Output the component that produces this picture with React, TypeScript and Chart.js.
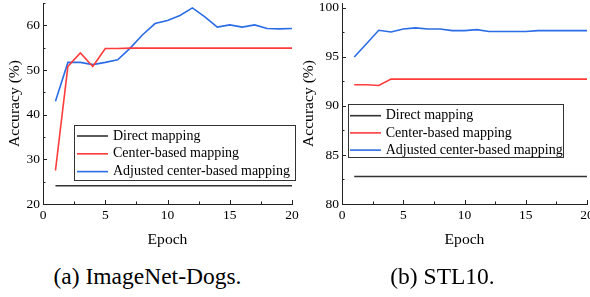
import React, { useEffect, useRef } from 'react';
import { Chart, registerables } from 'chart.js';

Chart.register(...registerables);

const FONT = "'Liberation Serif', 'Times New Roman', serif";

const epochs = [1, 2, 3, 4, 5, 6, 7, 8, 9, 10, 11, 12, 13, 14, 15, 16, 17, 18, 19, 20];
const seriesNames = ['Direct mapping', 'Center-based mapping', 'Adjusted center-based mapping'];
const seriesColors = ['#333333', '#ff3b3b', '#2b6de6'];
const xTickLabels = [0, 5, 10, 15, 20];

// (a) ImageNet-Dogs
const dogsDirect = [24.1, 24.1, 24.1, 24.1, 24.1, 24.1, 24.1, 24.1, 24.1, 24.1, 24.1, 24.1, 24.1, 24.1, 24.1, 24.1, 24.1, 24.1, 24.1, 24.1];
const dogsCenter = [27.5, 50.8, 53.8, 50.8, 54.8, 54.8, 54.9, 54.9, 54.9, 54.9, 54.9, 54.9, 54.9, 54.9, 54.9, 54.9, 54.9, 54.9, 54.9, 54.9];
const dogsAdjusted = [43.0, 51.7, 51.7, 51.2, 51.7, 52.3, 54.9, 57.9, 60.4, 61.1, 62.2, 63.9, 61.9, 59.6, 60.1, 59.6, 60.1, 59.3, 59.2, 59.3];
const dogsYTickLabels = [20, 30, 40, 50, 60];

// (b) STL10
const stlDirect = [82.8, 82.8, 82.8, 82.8, 82.8, 82.8, 82.8, 82.8, 82.8, 82.8, 82.8, 82.8, 82.8, 82.8, 82.8, 82.8, 82.8, 82.8, 82.8, 82.8];
const stlCenter = [92.16, 92.16, 92.08, 92.74, 92.74, 92.74, 92.74, 92.74, 92.74, 92.74, 92.74, 92.74, 92.74, 92.74, 92.74, 92.74, 92.74, 92.74, 92.74, 92.74];
const stlAdjusted = [94.99, 96.35, 97.72, 97.55, 97.85, 97.96, 97.85, 97.85, 97.68, 97.68, 97.78, 97.6, 97.6, 97.6, 97.6, 97.68, 97.68, 97.68, 97.68, 97.68];
const stlYTickLabels = [80, 85, 90, 95, 100];

const insideTicks = {
  id: 'insideTicks',
  afterDraw(chart: any, _args: any, o: any) {
    const { ctx, chartArea } = chart;
    const xs = chart.scales.x;
    const ys = chart.scales.y;
    ctx.save();
    ctx.strokeStyle = '#222';
    ctx.lineWidth = 1;
    ctx.beginPath();
    xs.ticks.forEach((t: any) => {
      const px = Math.round(xs.getPixelForValue(t.value)) + 0.5;
      const len = o.xMajor.includes(t.value) ? 4 : 2.5;
      ctx.moveTo(px, chartArea.bottom);
      ctx.lineTo(px, chartArea.bottom - len);
    });
    ys.ticks.forEach((t: any) => {
      const py = Math.round(ys.getPixelForValue(t.value)) + 0.5;
      const len = o.yMajor.includes(t.value) ? 4 : 2.5;
      ctx.moveTo(chartArea.left, py);
      ctx.lineTo(chartArea.left + len, py);
    });
    ctx.stroke();
    ctx.restore();
  },
};

const boxLegend = {
  id: 'boxLegend',
  afterDraw(chart: any, _args: any, o: any) {
    const ctx = chart.ctx;
    ctx.save();
    ctx.fillStyle = '#ffffff';
    ctx.fillRect(o.left, o.top, o.right - o.left, o.bottom - o.top);
    ctx.strokeStyle = '#333333';
    ctx.lineWidth = 1;
    ctx.strokeRect(o.left + 0.5, o.top + 0.5, o.right - o.left, o.bottom - o.top);
    chart.data.datasets.forEach((ds: any, i: number) => {
      const yy = o.top + o.firstRow + i * o.rowGap;
      ctx.strokeStyle = ds.borderColor;
      ctx.lineWidth = ds.borderWidth;
      ctx.beginPath();
      ctx.moveTo(o.sampleStart, yy);
      ctx.lineTo(o.sampleEnd, yy);
      ctx.stroke();
      ctx.fillStyle = '#000';
      ctx.font = `${o.fontSize}px ${FONT}`;
      ctx.textBaseline = 'middle';
      ctx.textAlign = 'left';
      ctx.fillText(ds.label, o.textX, yy);
    });
    ctx.restore();
  },
};

function buildConfig(series: number[][], yMin: number, yMax: number, yStep: number, yLabels: number[], yAxisWidth: number, yTitlePad: number, legend: any): any {
  return {
    type: 'line',
    data: {
      datasets: series.map((vals, i) => ({
        label: seriesNames[i],
        data: epochs.map((e, k) => ({ x: e, y: vals[k] })),
        borderColor: seriesColors[i],
        backgroundColor: seriesColors[i],
        borderWidth: 1.6,
        pointRadius: 0,
        tension: 0,
        fill: false,
      })),
    },
    options: {
      responsive: false,
      animation: false,
      devicePixelRatio: 1,
      layout: { padding: { top: 3, right: 10, bottom: 0, left: 0 } },
      plugins: {
        legend: { display: false },
        tooltip: { enabled: false },
        insideTicks: { xMajor: xTickLabels, yMajor: yLabels },
        boxLegend: legend,
      },
      scales: {
        x: {
          type: 'linear',
          min: 0,
          max: 20,
          grid: { display: false, drawTicks: false },
          border: { display: true, color: '#222', width: 1 },
          ticks: {
            stepSize: 2.5,
            autoSkip: false,
            maxRotation: 0,
            padding: 3,
            color: '#000',
            font: { family: FONT, size: 13.5 },
            callback: (v: number) => (xTickLabels.includes(v) ? String(v) : ''),
          },
          title: {
            display: true,
            text: 'Epoch',
            color: '#000',
            font: { family: FONT, size: 15.6 },
            padding: { top: 0, bottom: 6 },
          },
          afterFit: (s: any) => {
            s.height = 51;
            s.paddingLeft = 0;
            s.paddingRight = 0;
          },
        },
        y: {
          type: 'linear',
          min: yMin,
          max: yMax,
          grid: { display: false, drawTicks: false },
          border: { display: true, color: '#222', width: 1 },
          ticks: {
            stepSize: yStep,
            includeBounds: false,
            autoSkip: false,
            padding: 3,
            color: '#000',
            font: { family: FONT, size: 13.5 },
            callback: (v: number) => (yLabels.includes(v) ? String(v) : ''),
          },
          title: {
            display: true,
            text: 'Accuracy (%)',
            color: '#000',
            font: { family: FONT, size: 15.6 },
            padding: { top: yTitlePad, bottom: 0 },
          },
          afterFit: (s: any) => {
            s.width = yAxisWidth;
            s.paddingTop = 0;
            s.paddingBottom = 0;
          },
        },
      },
    },
    plugins: [insideTicks, boxLegend],
  };
}

export default function App() {
  const leftRef = useRef<HTMLCanvasElement | null>(null);
  const rightRef = useRef<HTMLCanvasElement | null>(null);

  useEffect(() => {
    const left = new Chart(
      leftRef.current as HTMLCanvasElement,
      buildConfig([dogsDirect, dogsCenter, dogsAdjusted], 20, 65, 5, dogsYTickLabels, 43, 6, {
        left: 74, right: 295, top: 125, bottom: 180,
        firstRow: 11, rowGap: 17.8, sampleStart: 77, sampleEnd: 108, textX: 113, fontSize: 14,
      })
    );
    const right = new Chart(
      rightRef.current as HTMLCanvasElement,
      buildConfig([stlDirect, stlCenter, stlAdjusted], 80, 100.5, 2.5, stlYTickLabels, 47, 5, {
        left: 53, right: 268, top: 104, bottom: 157,
        firstRow: 11.7, rowGap: 17.2, sampleStart: 55, sampleEnd: 86, textX: 90.7, fontSize: 14,
      })
    );
    return () => {
      left.destroy();
      right.destroy();
    };
  }, []);

  const captionStyle: React.CSSProperties = {
    position: 'absolute',
    top: 265,
    width: 295,
    textAlign: 'center',
    fontFamily: FONT,
    fontSize: '23.5px',
    lineHeight: '23.5px',
    color: '#000',
    whiteSpace: 'nowrap',
  };

  return (
    <div style={{ position: 'absolute', left: 0, top: 0, width: 590, height: 297, overflow: 'hidden', background: '#fff' }}>
      <canvas ref={leftRef} width={302} height={255} style={{ position: 'absolute', left: 0, top: 0, width: 302, height: 255 }} />
      <canvas ref={rightRef} width={302} height={255} style={{ position: 'absolute', left: 295, top: 0, width: 302, height: 255 }} />
      <div style={{ ...captionStyle, left: 0 }}>(a) ImageNet-Dogs.</div>
      <div style={{ ...captionStyle, left: 295 }}>(b) STL10.</div>
    </div>
  );
}
